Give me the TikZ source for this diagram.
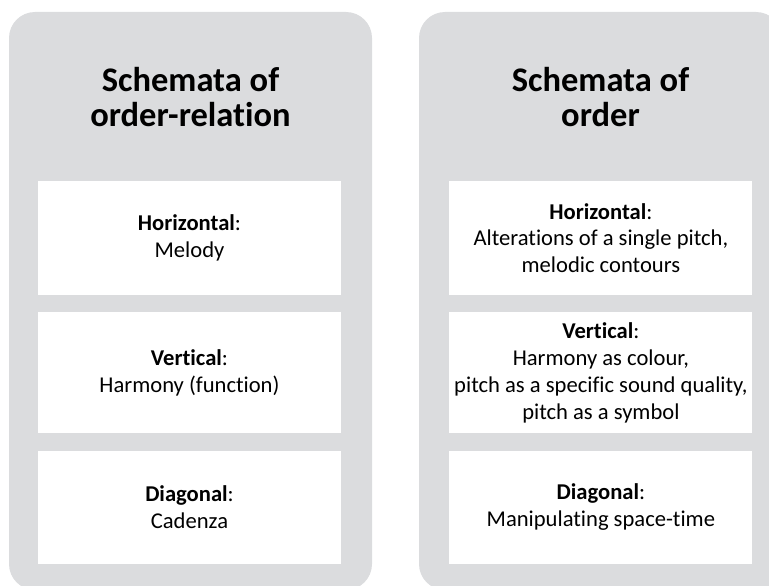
\documentclass[tikz,border=0pt]{standalone}
\usepackage{fontspec}
\setmainfont{Carlito}[Ligatures=CommonOff]
\usetikzlibrary{positioning}
\definecolor{panelgrey}{RGB}{219,220,222}
\colorlet{textcol}{black}
\tikzstyle{panel}=[fill=panelgrey,draw=none,rounded corners=26pt,minimum width=363pt,inner sep=0pt]
\tikzstyle{heading}=[text=textcol,align=center,font=\fontsize{34.5}{35}\selectfont\bfseries]
\tikzstyle{card}=[fill=white,draw=none,minimum width=303pt,inner sep=1pt,text=textcol,align=center,font=\fontsize{22.6}{26.7}\selectfont]

\begin{document}
\begin{tikzpicture}[x=1pt,y=-1pt]
  \def\W{769}  % picture width
  \def\H{586}  % picture height
  \def\G{17pt} % gap between cards

  % Clip to the picture frame
  \useasboundingbox (0,0) rectangle (\W,\H);
  \clip (0,0) rectangle (\W,\H);

  % the two grey panels
  \node[panel,minimum height=578pt] (lpanel) at (190.5,301) {};
  \node[panel,minimum height=578pt] (rpanel) at (600.5,301) {};

  % headings
  \node[heading] (ltitle) at (190.5,97) {Schemata of\\order-relation};
  \node[heading] (rtitle) at (600.5,97) {Schemata of\\order};

  % left column
  \node[card,minimum height=114pt] (lhor) at (189.5,238) {\textbf{Horizontal}:\\Melody};
  \node[card,minimum height=121pt,below=\G of lhor] (lver) {\textbf{Vertical}:\\Harmony (function)};
  \node[card,minimum height=113pt,below=\G of lver] (ldia) {\textbf{Diagonal}:\\Cadenza};

  % right column
  \node[card,minimum height=114pt,right=108pt of lhor] (rhor)
    {\textbf{Horizontal}:\\Alterations of a single pitch,\\melodic contours};
  \node[card,minimum height=121pt,below=\G of rhor] (rver)
    {\textbf{Vertical}:\\Harmony as colour,\\pitch as a specific sound quality,\\pitch as a symbol};
  \node[card,minimum height=113pt,below=\G of rver] (rdia)
    {\textbf{Diagonal}:\\Manipulating space-time};
\end{tikzpicture}
\end{document}
